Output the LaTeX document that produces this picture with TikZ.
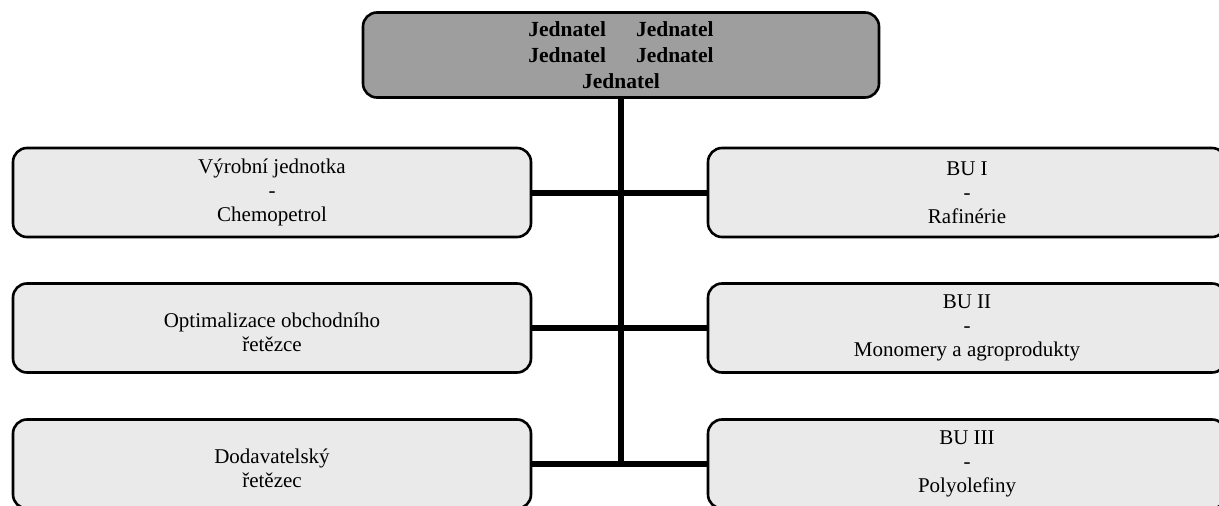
\documentclass[tikz,border=0pt]{standalone}
\usepackage{fontspec}
\setmainfont{Liberation Serif}
\usepackage{tikz}
\usetikzlibrary{calc}

\definecolor{darkbox}{RGB}{158,158,158}
\definecolor{lightbox}{RGB}{234,234,234}

\begin{document}
\begin{tikzpicture}[x=1pt,y=-1pt,
    unit/.style={draw, line width=2.6pt, rounded corners=14pt, fill=lightbox,
        minimum width=518pt, minimum height=89pt, inner sep=0pt, align=center,
        font=\fontsize{21}{24}\selectfont},
    head/.style={unit, fill=darkbox, minimum width=516pt, minimum height=85pt,
        font=\fontsize{21.5}{26}\selectfont\bfseries},
    link/.style={line width=6pt}]
    \useasboundingbox (0,0) rectangle (1219,506);
    \clip (0,0) rectangle (1219,506);

    \node[head] (top) at (621,55)
        {Jednatel\hspace{30pt}Jednatel\\Jednatel\hspace{30pt}Jednatel\\Jednatel};

    \node[unit] (l1) at (272,192.5) {Výrobní jednotka\\-\\Chemopetrol};
    \node[unit] (l2) at (272,328) {\mbox{}\\Optimalizace obchodního\\řetězce};
    \node[unit] (l3) at (272,464) {\mbox{}\\Dodavatelský\\řetězec};

    \node[unit] (r1) at (967,192.5) {BU I\\-\\Rafinérie};
    \node[unit] (r2) at (967,328) {BU II\\-\\Monomery a agroprodukty};
    \node[unit] (r3) at (967,464) {BU III\\-\\Polyolefiny};

    \draw[link] (top.south) -- (top.south |- l3.east);
    \draw[link] (l1.east) -- (r1.west);
    \draw[link] (l2.east) -- (r2.west);
    \draw[link] (l3.east) -- (r3.west);
\end{tikzpicture}
\end{document}
